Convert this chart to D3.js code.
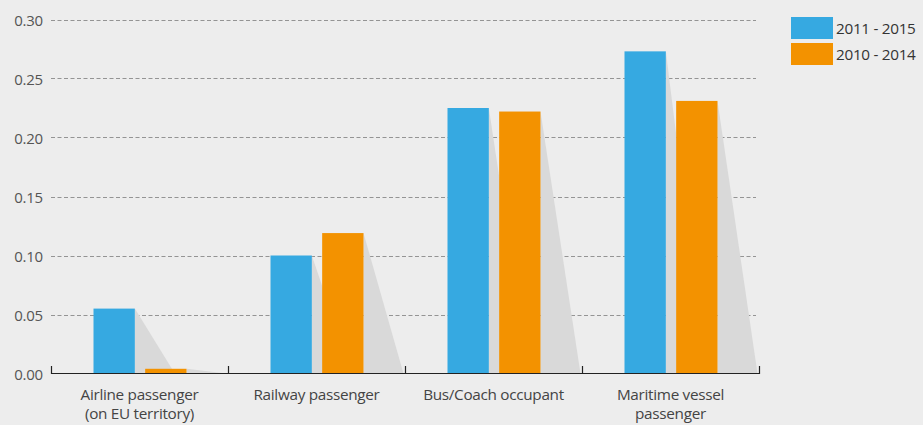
<!DOCTYPE html>
<html>
<head>
<meta charset="utf-8">
<script src="https://cdn.jsdelivr.net/npm/d3@7"></script>
<style>
  html, body { margin: 0; padding: 0; background: #ededed; }
  svg { display: block; }
  text { font-family: "Open Sans", "Noto Sans", sans-serif; }
</style>
</head>
<body>
<svg id="chart" width="923" height="425"></svg>
<script>
const categories = [
  ["Airline passenger", "(on EU territory)"],
  ["Railway passenger"],
  ["Bus/Coach occupant"],
  ["Maritime vessel", "passenger"]
];
const seriesNames = ["2011 - 2015", "2010 - 2014"];
const values2011_2015 = [0.055, 0.100, 0.225, 0.273];
const values2010_2014 = [0.004, 0.119, 0.222, 0.231];
const yTicks = [0, 0.05, 0.10, 0.15, 0.20, 0.25, 0.30];
const colors = ["#36a9e1", "#f39200"];

const seriesValues = [values2011_2015, values2010_2014];
const catKeys = categories.map(c => c.join(" "));

const svg = d3.select("#chart");
const W = 923, H = 425;
svg.append("rect").attr("width", W).attr("height", H).attr("fill", "#ededed");

const x0 = d3.scaleBand().domain(catKeys).range([51, 759]);
const x1 = d3.scaleBand().domain(seriesNames).range([42.5, 135.5]).paddingInner(0.2);
const y = d3.scaleLinear().domain([0, 0.30]).range([373.5, 19.5]);

// gridlines
const grid = svg.append("g");
grid.selectAll("line").data(yTicks.filter(t => t > 0)).join("line")
  .attr("x1", 51).attr("x2", 756)
  .attr("y1", d => Math.round(y(d)) + 0.5).attr("y2", d => Math.round(y(d)) + 0.5)
  .attr("stroke", "#949494").attr("stroke-width", 1.2)
  .attr("stroke-dasharray", "4,2.5");

// y tick labels
svg.append("g").selectAll("text").data(yTicks).join("text")
  .attr("x", 43).attr("y", d => y(d))
  .attr("text-anchor", "end").attr("dominant-baseline", "central")
  .attr("font-size", 15).attr("fill", "#555")
  .attr("letter-spacing", "-0.2")
  .text(d => d3.format(".2f")(d));

// bars with shadows
const data = [];
catKeys.forEach((c, i) => {
  seriesNames.forEach((s, j) => data.push({cat: c, s, v: seriesValues[j][i], color: colors[j]}));
});

const gBars = svg.append("g");
data.forEach(d => {
  const xl = x0(d.cat) + x1(d.s);
  const xr = xl + x1.bandwidth();
  const base = y(0);
  gBars.append("path")
    .attr("d", `M${xr},${y(d.v)} L${xr + 40},${base} L${xr},${base} Z`)
    .attr("fill", "#d9d9d9");
});
data.forEach(d => {
  gBars.append("rect")
    .attr("x", x0(d.cat) + x1(d.s))
    .attr("y", y(d.v))
    .attr("width", x1.bandwidth())
    .attr("height", y(0) - y(d.v))
    .attr("fill", d.color);
});

// x axis
const axis = svg.append("g");
axis.append("line").attr("x1", 51).attr("x2", 759.5)
  .attr("y1", 373.5).attr("y2", 373.5).attr("stroke", "#222").attr("stroke-width", 1.2);
const bounds = catKeys.map(c => x0(c)).concat([x0.range()[1]]);
axis.selectAll("line.tick").data(bounds).join("line").attr("class", "tick")
  .attr("x1", d => Math.round(d) + 0.5).attr("x2", d => Math.round(d) + 0.5)
  .attr("y1", 366).attr("y2", 374).attr("stroke", "#222").attr("stroke-width", 1.2);

// category labels
categories.forEach((lines, i) => {
  const cx = x0(catKeys[i]) + x0.bandwidth() / 2;
  const t = svg.append("text").attr("x", cx).attr("y", 399.5)
    .attr("text-anchor", "middle").attr("font-size", 15.3).attr("fill", "#444")
    .attr("letter-spacing", "-0.3");
  lines.forEach((ln, k) => {
    t.append("tspan").attr("x", cx).attr("dy", k === 0 ? 0 : 19.5).text(ln);
  });
});

// legend
const legend = svg.append("g");
seriesNames.forEach((s, j) => {
  legend.append("rect").attr("x", 791).attr("y", 17 + j * 26)
    .attr("width", 42).attr("height", 22).attr("fill", colors[j]);
  legend.append("text").attr("x", 836).attr("y", 28 + j * 26)
    .attr("dominant-baseline", "central").attr("font-size", 15.3).attr("fill", "#333")
    .attr("letter-spacing", "-0.3")
    .text(s);
});
</script>
</body>
</html>
